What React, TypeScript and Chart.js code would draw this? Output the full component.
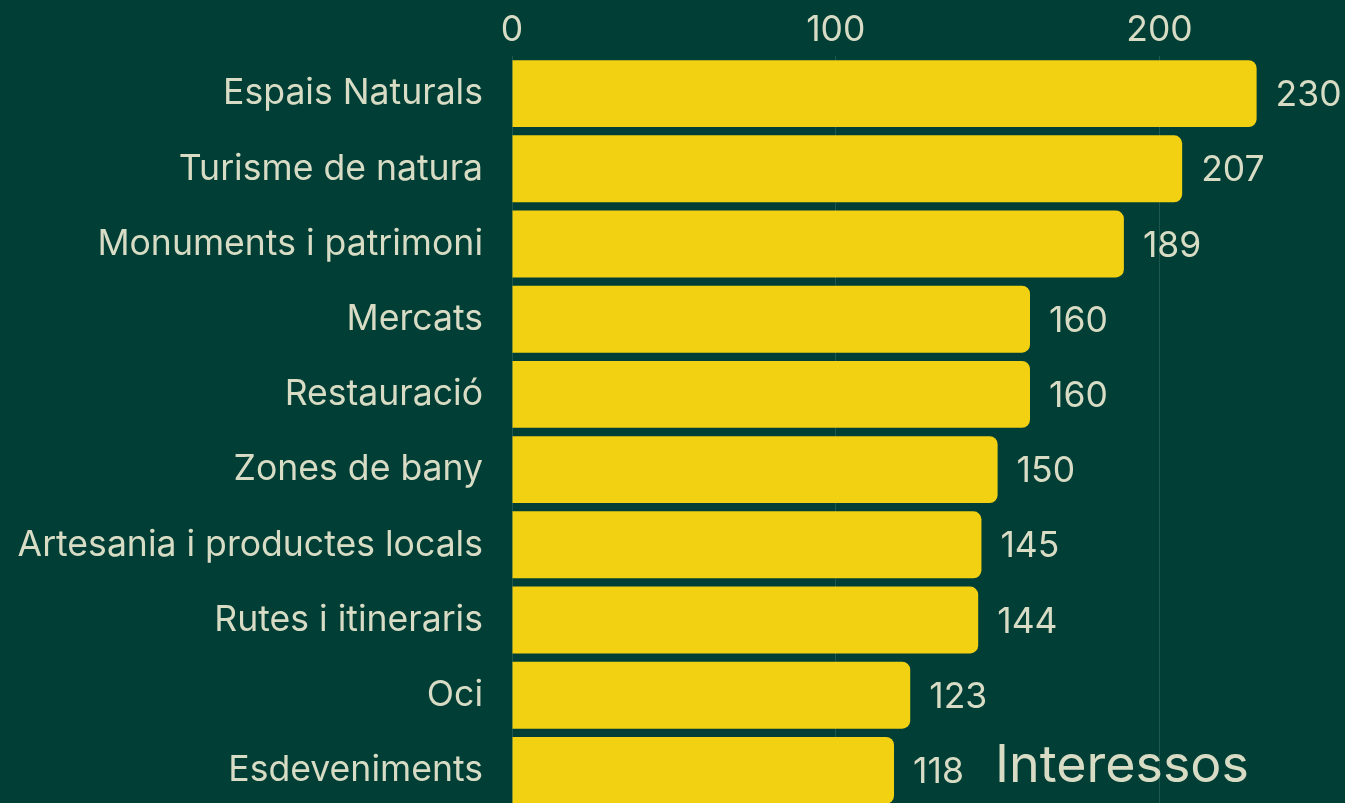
import React, { useEffect, useRef } from "react";
import { Chart, registerables } from "chart.js";

Chart.register(...registerables);

const categories = [
  "Espais Naturals",
  "Turisme de natura",
  "Monuments i patrimoni",
  "Mercats",
  "Restauració",
  "Zones de bany",
  "Artesania i productes locals",
  "Rutes i itineraris",
  "Oci",
  "Esdeveniments",
];
const values = [230, 207, 189, 160, 160, 150, 145, 144, 123, 118];
const tickValues = [0, 100, 200];
const chartLabel = "Interessos";

const BG = "#013f36";
const BAR = "#f2d113";
const TEXT = "#d8dcc4";
const FONT = "Inter";

export default function App() {
  const ref = useRef<HTMLCanvasElement | null>(null);

  useEffect(() => {
    if (!ref.current) return;
    const valueLabels = {
      id: "valueLabels",
      afterDatasetsDraw(chart: any) {
        const ctx = chart.ctx;
        const meta = chart.getDatasetMeta(0);
        ctx.save();
        ctx.fillStyle = TEXT;
        ctx.font = `35.5px ${FONT}`;
        ctx.textAlign = "left";
        ctx.textBaseline = "middle";
        meta.data.forEach((el: any, i: number) => {
          ctx.fillText(String(values[i]), el.x + 19, el.y + 2);
        });
        ctx.font = `52px ${FONT}`;
        ctx.textAlign = "right";
        ctx.textBaseline = "alphabetic";
        const area = chart.chartArea;
        ctx.fillText(chartLabel, area.right - 96, area.bottom - 26);
        ctx.restore();
      },
    };
    const chart = new Chart(ref.current, {
      type: "bar",
      data: {
        labels: categories,
        datasets: [
          {
            data: values,
            backgroundColor: BAR,
            borderRadius: 8,
            barPercentage: 0.89,
            categoryPercentage: 1,
          },
        ],
      },
      options: {
        indexAxis: "y",
        animation: false,
        responsive: true,
        maintainAspectRatio: false,
        layout: { padding: 0 },
        plugins: {
          legend: { display: false },
          tooltip: { enabled: false },
          title: { display: false },
        },
        scales: {
          x: {
            position: "top",
            min: 0,
            max: 257.3,
            border: { display: false },
            grid: { color: "rgba(255,255,255,0.12)", drawTicks: false, lineWidth: 1 },
            ticks: {
              color: TEXT,
              font: { family: FONT, size: 35.5 },
              padding: 4,
              stepSize: 100,
            },
            afterBuildTicks(scale: any) {
              scale.ticks = tickValues.map((v) => ({ value: v }));
            },
            afterFit(scale: any) {
              scale.height = 56;
              scale.paddingLeft = 0;
              scale.paddingRight = 0;
            },
          },
          y: {
            border: { display: false },
            grid: { display: false, drawTicks: false },
            ticks: {
              color: TEXT,
              font: { family: FONT, size: 35.6 },
              padding: 29,
            },
            afterFit(scale: any) {
              scale.width = 512;
              scale.paddingTop = 0;
              scale.paddingBottom = 0;
            },
          },
        },
      },
      plugins: [valueLabels],
    });
    return () => chart.destroy();
  }, []);

  return (
    <div
      style={{
        position: "fixed",
        left: 0,
        top: 0,
        width: 1345,
        height: 803,
        overflow: "hidden",
        background: BG,
      }}
    >
      <div style={{ position: "relative", width: 1345, height: 808 }}>
        <canvas ref={ref} />
      </div>
    </div>
  );
}
